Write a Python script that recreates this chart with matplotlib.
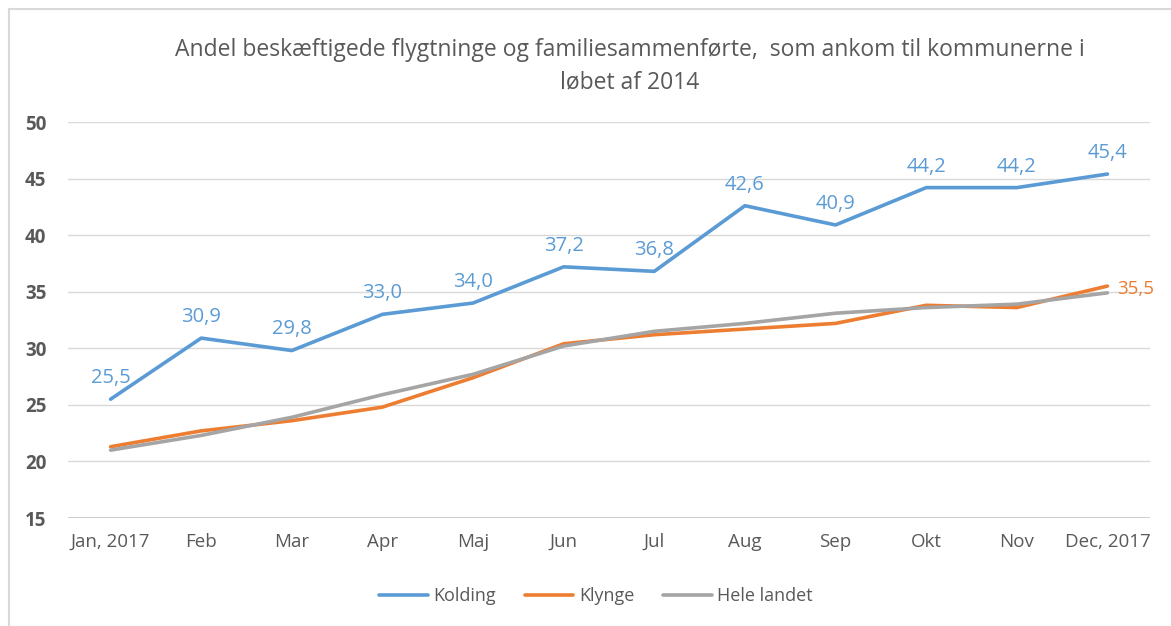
import matplotlib
matplotlib.use("Agg")
import matplotlib.pyplot as plt
from matplotlib.lines import Line2D

plt.rcParams['font.family'] = ['Open Sans', 'DejaVu Sans']

MONTHS = ["Jan, 2017", "Feb", "Mar", "Apr", "Maj", "Jun", "Jul", "Aug",
          "Sep", "Okt", "Nov", "Dec, 2017"]
KOLDING = [25.5, 30.9, 29.8, 33.0, 34.0, 37.2, 36.8, 42.6, 40.9, 44.2, 44.2, 45.4]
KLYNGE = [21.3, 22.7, 23.6, 24.8, 27.4, 30.4, 31.2, 31.7, 32.2, 33.8, 33.6, 35.5]
HELE_LANDET = [21.0, 22.3, 23.9, 25.9, 27.7, 30.2, 31.5, 32.2, 33.1, 33.6, 33.9, 34.9]

TITLE = "Andel beskæftigede flygtninge og familiesammenførte,  som ankom til kommunerne i\nløbet af 2014"

BLUE = "#5b9bd5"
ORANGE = "#ed7d31"
GRAY = "#a5a5a5"
TEXT = "#595959"


def fmt(v):
    return f"{v:.1f}".replace(".", ",")


def main():
    fig = plt.figure(figsize=(11.71, 6.26), dpi=100)
    ax = fig.add_axes([68 / 1171, 1 - 518 / 626, (1150 - 68) / 1171, (518 - 122) / 626])

    x = list(range(len(MONTHS)))
    ax.plot(x, KOLDING, color=BLUE, lw=2.6, label="Kolding", solid_capstyle="round", zorder=3)
    ax.plot(x, KLYNGE, color=ORANGE, lw=2.6, label="Klynge", solid_capstyle="round", zorder=2)
    ax.plot(x, HELE_LANDET, color=GRAY, lw=2.6, label="Hele landet", solid_capstyle="round", zorder=2)

    for i, v in enumerate(KOLDING):
        ax.annotate(fmt(v), (i, v), xytext=(0, 8), textcoords="offset points",
                    ha="center", va="bottom", color=BLUE, fontsize=14.5)
    ax.annotate(fmt(KLYNGE[-1]), (len(KLYNGE) - 1, KLYNGE[-1]), xytext=(7, -2),
                textcoords="offset points", ha="left", va="center",
                color=ORANGE, fontsize=13.5)

    ax.set_xlim(-0.47, len(MONTHS) - 1 + 0.47)
    ax.set_ylim(15, 50)
    ax.set_yticks(range(15, 51, 5))
    ax.set_xticks(x)
    ax.set_xticklabels(MONTHS)
    ax.grid(axis="y", color="#d9d9d9", lw=1)
    ax.axhline(15, color="#c8c8c8", lw=1.2, zorder=1)
    ax.set_axisbelow(True)
    for s in ax.spines.values():
        s.set_visible(False)
    ax.tick_params(length=0, colors=TEXT)
    ax.tick_params(axis="x", pad=11, labelsize=13.5)
    ax.tick_params(axis="y", pad=31, labelsize=13.5)
    for lab in ax.get_yticklabels():
        lab.set_fontweight("bold")
        lab.set_horizontalalignment("left")

    fig.text(630 / 1171, 1 - 66 / 626, TITLE, ha="center", va="center",
             fontsize=16.5, color=TEXT, linespacing=1.45)

    leg = fig.legend(loc="center", bbox_to_anchor=(596 / 1171, 1 - 596 / 626), ncol=3,
                     frameon=False, fontsize=13, handlelength=2.7, handletextpad=0.3,
                     columnspacing=1.6)
    for t in leg.get_texts():
        t.set_color(TEXT)

    fig.add_artist(Line2D([9 / 1171, 9 / 1171], [0, 1 - 9 / 626], color="#d9d9d9", lw=1.5))
    fig.add_artist(Line2D([9 / 1171, 1], [1 - 9 / 626, 1 - 9 / 626], color="#d9d9d9", lw=1.5))

    fig.savefig("out.png", dpi=100)


if __name__ == "__main__":
    main()
